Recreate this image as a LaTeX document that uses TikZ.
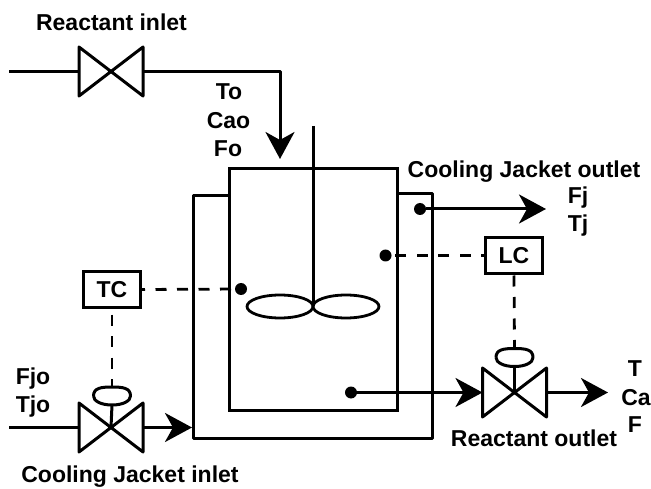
\documentclass[tikz,border=0pt]{standalone}
\usepackage{fontspec}
\setmainfont{Liberation Sans}
\usetikzlibrary{arrows.meta,shapes.geometric}
\tikzset{
    pipe/.style={line width=3pt,line join=round},
    flow/.style={pipe,-{Stealth[length=27pt,width=29pt,inset=8pt]}},
    signal/.style={line width=2.8pt,dash pattern=on 11pt off 10.5pt},
    valve/.style={minimum width=64pt,minimum height=49pt,inner sep=0pt,outer sep=0pt},
    head/.style={minimum width=37pt,minimum height=18pt,inner sep=0pt,outer sep=0pt},
    ctrl/.style={draw,line width=3pt,minimum width=57pt,minimum height=36pt,inner sep=0pt,font=\bfseries\fontsize{23}{23}\selectfont},
    dot/.style={circle,fill,minimum size=12pt,inner sep=0pt,outer sep=0pt},
    blade/.style={draw,ellipse,line width=2.8pt,minimum width=66pt,minimum height=23pt,inner sep=0pt,outer sep=0pt},
    lbl/.style={inner sep=0pt,text height=16pt,text depth=5pt,font=\bfseries\fontsize{23}{23}\selectfont}
}
\begin{document}
\begin{tikzpicture}[x=1pt,y=-1pt]
    \useasboundingbox (0,0) rectangle (651,489);
    % vessel and jacket
    \node[draw,line width=3pt,minimum width=168pt,minimum height=241pt,outer sep=0pt] (tank) at (313,289.5) {};
    \coordinate (jackL) at (229,196);
    \coordinate (jackR) at (397,194);
    \draw[pipe] (jackL) -- (193,196) -- (193,438.5) -- (432,438.5) -- (432,194) -- (jackR);
    % agitator
    \node[blade] (bladeL) at (280,306.5) {};
    \node[blade] (bladeR) at (346,306.5) {};
    \coordinate (shaft) at (313,126);
    \draw[pipe] (shaft) -- (bladeL.east);
    % valves
    \node[valve] (valveIn) at (111,71.5) {};
    \node[valve] (valveJ) at (111,427.5) {};
    \node[valve] (valveOut) at (514.5,392.5) {};
    \foreach \v in {valveIn,valveJ,valveOut}
        \draw[pipe] (\v.north west) -- (\v.south east) -- (\v.north east) -- (\v.south west) -- cycle;
    \node[head] (headJ) at (112,396) {};
    \node[head] (headOut) at (514.5,357.5) {};
    \foreach \h in {headJ,headOut}
        \draw[pipe] (\h.west) .. controls +(0,-8) and +(-11,0) .. (\h.north) .. controls +(11,0) and +(0,-8) .. (\h.east)
            .. controls +(0,5) and +(11,0) .. (\h.south) .. controls +(-11,0) and +(0,5) .. (\h.west);
    \draw[pipe] (headJ.south) -- (valveJ.center);
    \draw[pipe] (headOut.south) -- (valveOut.center);
    % controllers
    \node[ctrl] (TC) at (112,289.5) {TC};
    \node[ctrl] (LC) at (514,255.5) {LC};
    \node[dot] (dotT) at (241,289) {};
    \node[dot] (dotL) at (385.5,255.5) {};
    \node[dot] (dotJ) at (420,209) {};
    \node[dot] (dotR) at (351,392.5) {};
    \draw[signal,dash phase=8pt] (TC.east) -- (dotT);
    \draw[signal,dash phase=8pt] (LC.west) -- (dotL);
    \draw[signal,dash phase=16pt] (TC.south) -- (headJ.north);
    \draw[signal,dash phase=21pt] (LC.south) -- (headOut.north);
    % streams
    \coordinate (srcIn) at (9,71.5);
    \coordinate (srcJ) at (9,427.5);
    \coordinate (bendIn) at (280,71.5);
    \coordinate (tipIn) at (280,159);
    \coordinate (tipJ) at (192,427.5);
    \coordinate (tipJo) at (546,209);
    \coordinate (tipOut) at (608,392.5);
    \draw[pipe] (srcIn) -- (valveIn.west);
    \draw[flow] (valveIn.east) -- (bendIn) -- (tipIn);
    \draw[pipe] (srcJ) -- (valveJ.west);
    \draw[flow] (valveJ.east) -- (tipJ);
    \draw[flow] (dotJ) -- (tipJo);
    \draw[flow] (dotR) -- (valveOut.west);
    \draw[flow] (valveOut.east) -- (tipOut);
    % labels
    \node[lbl] (lblIn) at (111.5,25) {Reactant inlet};
    \node[lbl] (lblTo) at (229,94.5) {To};
    \node[lbl] (lblCao) at (228.5,123) {Cao};
    \node[lbl] (lblFo) at (228,151) {Fo};
    \node[lbl] (lblJo) at (524,172) {Cooling Jacket outlet};
    \node[lbl] (lblFj) at (578,198) {Fj};
    \node[lbl] (lblTj) at (578,226) {Tj};
    \node[lbl] (lblT) at (635,371) {T};
    \node[lbl] (lblCa) at (636,400) {Ca};
    \node[lbl] (lblF) at (635,427) {F};
    \node[lbl] (lblOut) at (534,441) {Reactant outlet};
    \node[lbl] (lblFjo) at (33,379) {Fjo};
    \node[lbl] (lblTjo) at (33,407) {Tjo};
    \node[lbl] (lblJi) at (130,477) {Cooling Jacket inlet};
\end{tikzpicture}
\end{document}
